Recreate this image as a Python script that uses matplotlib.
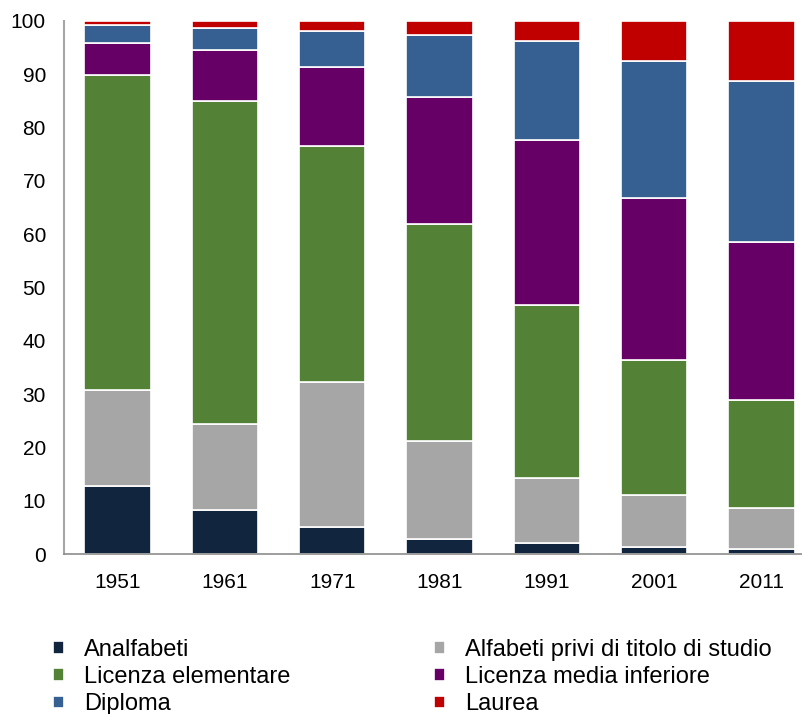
import numpy as np
import matplotlib
matplotlib.use("Agg")
import matplotlib.pyplot as plt

plt.rcParams['font.family'] = ['Liberation Sans', 'DejaVu Sans']

# censimenti, quote percentuali per titolo di studio
years = ['1951', '1961', '1971', '1981', '1991', '2001', '2011']
analfabeti = [12.8, 8.3, 5.1, 2.9, 2.0, 1.3, 0.9]
alfabeti = [18.0, 16.0, 27.2, 18.3, 12.2, 9.7, 7.8]
elementare = [59.1, 60.6, 44.3, 40.7, 32.6, 25.4, 20.1]
media = [5.9, 9.7, 14.7, 23.9, 30.9, 30.3, 29.8]
diploma = [3.4, 4.1, 6.9, 11.5, 18.6, 25.8, 30.2]
laurea = [0.8, 1.3, 1.8, 2.7, 3.7, 7.5, 11.2]

labels = ['Analfabeti', 'Alfabeti privi di titolo di studio', 'Licenza elementare',
          'Licenza media inferiore', 'Diploma', 'Laurea']
colors = ['#12253f', '#a6a6a6', '#538135', '#660066', '#366092', '#c00000']
series = [analfabeti, alfabeti, elementare, media, diploma, laurea]

fig = plt.figure(figsize=(8.03, 7.14), dpi=100)
ax = fig.add_axes([64 / 803, 1 - 554 / 714, 751 / 803, 533 / 714])

x = np.arange(len(years))
bottom = np.zeros(len(years))
handles = []
for vals, col, lab in zip(series, colors, labels):
    b = ax.bar(x, vals, width=0.62, bottom=bottom, color=col, edgecolor='white',
               linewidth=1.2, label=lab)
    handles.append(b)
    bottom += np.array(vals)

ax.set_xlim(-0.5, 6.5)
ax.set_ylim(0, 100)
ax.set_yticks(range(0, 101, 10))
ax.set_xticks(x)
ax.set_xticklabels(years)
ax.tick_params(axis='both', length=0, labelsize=15, colors='black')
ax.tick_params(axis='y', pad=13)
ax.tick_params(axis='x', pad=14)

for s in ['top', 'right']:
    ax.spines[s].set_visible(False)
ax.spines['left'].set_color('#a6a6a6')
ax.spines['bottom'].set_color('#8c8c8c')
ax.spines['left'].set_linewidth(1.5)
ax.spines['bottom'].set_linewidth(1.2)

# legend row-major: reorder for ncol=2
order = [0, 2, 4, 1, 3, 5]
fig.legend([handles[i] for i in order], [labels[i] for i in order],
           loc='upper left', bbox_to_anchor=(53 / 803, 1 - 639 / 714), ncol=2,
           frameon=False, fontsize=17, handlelength=0.45, handleheight=0.45,
           handletextpad=0.85, labelspacing=0.22, columnspacing=6.1,
           borderpad=0, borderaxespad=0)

fig.savefig('out.png', dpi=100)
